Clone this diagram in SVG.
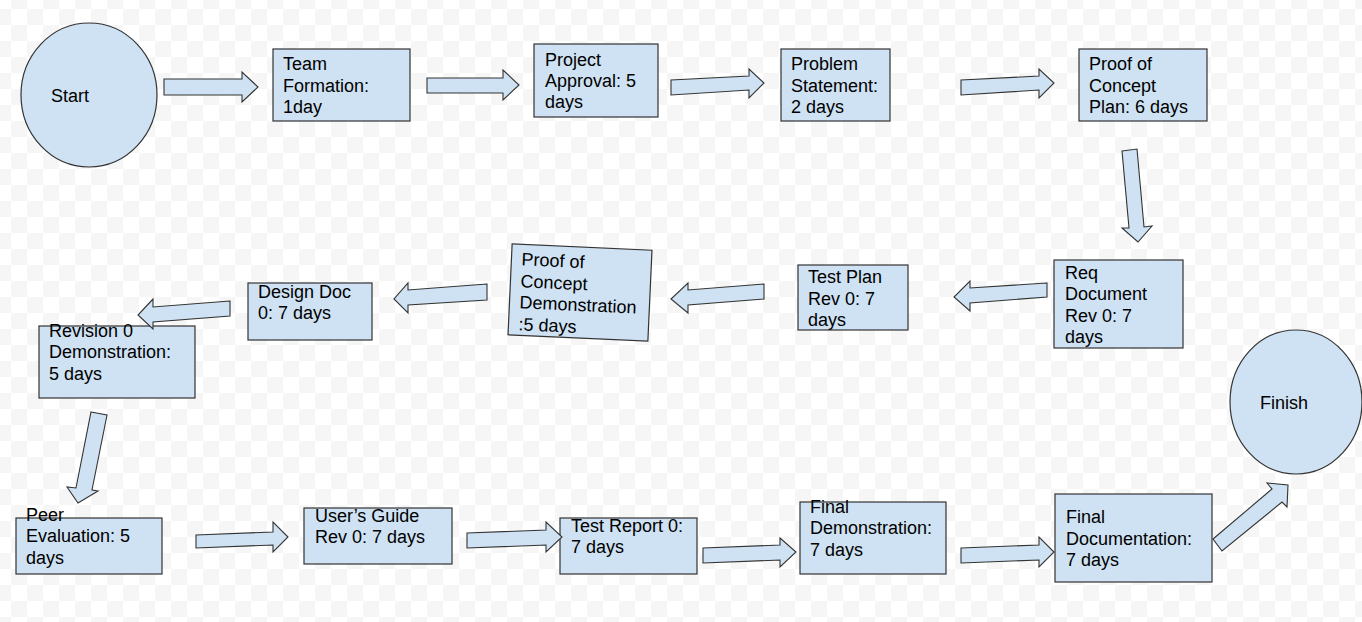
<svg xmlns="http://www.w3.org/2000/svg" width="1362" height="622" viewBox="0 0 1362 622">
<defs>
<pattern id="checker" x="-5" y="-7" width="32" height="32" patternUnits="userSpaceOnUse">
<rect width="32" height="32" fill="#ffffff"/>
<rect x="16" y="0" width="16" height="16" fill="#f6f6f6"/>
<rect x="0" y="16" width="16" height="16" fill="#f6f6f6"/>
</pattern>
</defs>
<style>
.n{fill:#cfe2f3;stroke:#333;stroke-width:1.2}
.a{fill:#cfe2f3;stroke:#333;stroke-width:1.1;stroke-linejoin:miter}
text{font-family:"Liberation Sans",Arial,sans-serif;font-size:18px;fill:#000}
</style>
<rect width="1362" height="622" fill="url(#checker)"/>

<g id="start"><ellipse class="n" cx="89" cy="95" rx="68" ry="72"/><text x="51" y="102">Start</text></g>
<g id="team-formation"><rect class="n" x="273" y="49" width="137" height="72"/><text x="283" y="70">Team</text><text x="283" y="92">Formation:</text><text x="283" y="113">1day</text></g>
<g id="project-approval"><rect class="n" x="534" y="44" width="124" height="73"/><text x="545" y="66">Project</text><text x="545" y="87">Approval: 5</text><text x="545" y="108">days</text></g>
<g id="problem-statement"><rect class="n" x="781" y="49" width="109" height="72"/><text x="791" y="70">Problem</text><text x="791" y="92">Statement:</text><text x="791" y="113">2 days</text></g>
<g id="poc-plan"><rect class="n" x="1079" y="49" width="128" height="72"/><text x="1089" y="70">Proof of</text><text x="1089" y="92">Concept</text><text x="1089" y="113">Plan: 6 days</text></g>
<g id="req-document"><rect class="n" x="1054" y="260" width="129" height="88"/><text x="1065" y="279">Req</text><text x="1065" y="300">Document</text><text x="1065" y="322">Rev 0: 7</text><text x="1065" y="343">days</text></g>
<g id="test-plan"><rect class="n" x="798" y="265" width="110" height="65"/><text x="808" y="283">Test Plan</text><text x="808" y="305">Rev 0: 7</text><text x="808" y="326">days</text></g>
<g id="poc-demo" transform="rotate(2.6 580 292.5)"><rect class="n" x="510" y="247" width="140" height="91"/><text x="520" y="268">Proof of</text><text x="520" y="290">Concept</text><text x="520" y="311">Demonstration</text><text x="520" y="333">:5 days</text></g>
<g id="design-doc"><rect class="n" x="248" y="283" width="124" height="57"/><text x="258" y="298">Design Doc</text><text x="258" y="319">0: 7 days</text></g>
<g id="revision-0"><rect class="n" x="39" y="326" width="156" height="72"/><text x="49" y="337">Revision 0</text><text x="49" y="358">Demonstration:</text><text x="49" y="380">5 days</text></g>
<g id="peer-evaluation"><rect class="n" x="16" y="518" width="146" height="56"/><text x="26" y="521">Peer</text><text x="26" y="542">Evaluation: 5</text><text x="26" y="564">days</text></g>
<g id="users-guide"><rect class="n" x="304" y="508" width="148" height="56"/><text x="315" y="522">User’s Guide</text><text x="315" y="543">Rev 0: 7 days</text></g>
<g id="test-report"><rect class="n" x="560" y="518" width="137" height="56"/><text x="571" y="532">Test Report 0:</text><text x="571" y="553">7 days</text></g>
<g id="final-demo"><rect class="n" x="800" y="502" width="146" height="72"/><text x="810" y="513">Final</text><text x="810" y="534">Demonstration:</text><text x="810" y="556">7 days</text></g>
<g id="final-doc"><rect class="n" x="1055" y="494" width="157" height="88"/><text x="1066" y="523">Final</text><text x="1066" y="545">Documentation:</text><text x="1066" y="566">7 days</text></g>
<g id="finish"><ellipse class="n" cx="1296" cy="402" rx="66" ry="72"/><text x="1260" y="409">Finish</text></g>

<g id="connectors">
<polygon class="a" points="164,79 242,79 242,72 258,87 242,102 242,95 164,95"/>
<polygon class="a" points="427,78 503,78 503,70 519,85 503,100 503,93 427,93"/>
<polygon class="a" points="671,80 749,76 749,69 764,83 749,98 749,90 671,95"/>
<polygon class="a" points="961,80 1039,76 1039,69 1054,83 1039,98 1039,90 961,95"/>
<polygon class="a" points="1122,151 1137,149 1144,227 1152,226 1138,242 1122,228 1129,228"/>
<polygon class="a" points="1047,283 970,288 970,281 954,297 970,311 970,303 1047,297"/>
<polygon class="a" points="764,284 688,290 688,283 671,299 688,313 688,305 764,299"/>
<polygon class="a" points="487,284 408,290 408,283 394,299 408,313 408,305 487,300"/>
<polygon class="a" points="230,301 153,307 153,299 138,315 153,329 153,322 230,316"/>
<polygon class="a" points="91,412 107,415 92,490 98,491 78,503 67,487 76,488"/>
<polygon class="a" points="196,535 273,532 273,522 288,537 273,552 273,545 196,548"/>
<polygon class="a" points="467,533 546,530 546,522 562,537 546,552 546,545 467,548"/>
<polygon class="a" points="703,548 780,545 780,538 796,552 780,567 780,560 703,563"/>
<polygon class="a" points="961,548 1039,545 1039,537 1054,552 1039,567 1039,560 961,563"/>
<polygon class="a" points="1213,539 1272,489 1267,483 1288,485 1287,507 1282,502 1222,551"/>
</g>
</svg>
